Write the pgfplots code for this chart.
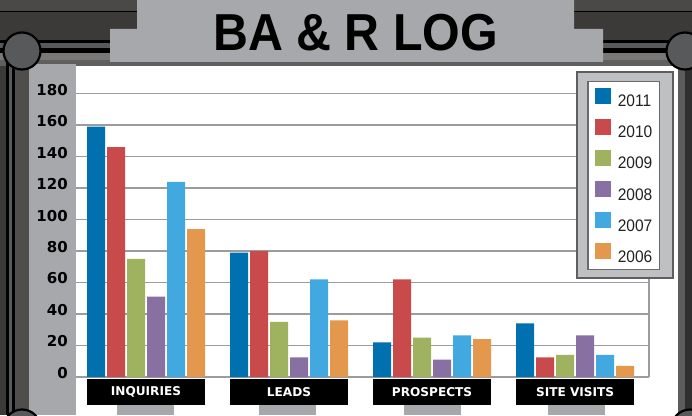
\documentclass[border=0pt]{standalone}
\usepackage{pgfplots}
\pgfplotsset{compat=1.18}
\usepackage{fontspec}
\setmainfont{Liberation Sans}
\newfontfamily\heavyfont{DejaVu Sans}
\newfontfamily\catfont{DejaVu Sans}
\newfontfamily\titlefont{Liberation Sans}[FakeStretch=0.93]
\newfontfamily\legfont{Liberation Sans}[FakeStretch=0.93]
\definecolor{c2011}{HTML}{0170AE}
\definecolor{c2010}{HTML}{C84A4A}
\definecolor{c2009}{HTML}{9EB260}
\definecolor{c2008}{HTML}{8870A2}
\definecolor{c2007}{HTML}{42A9E0}
\definecolor{c2006}{HTML}{E4984E}
\definecolor{panelgray}{HTML}{A7A8AB}
\definecolor{gridgray}{HTML}{9C9C9F}
\definecolor{legout}{HTML}{BFC0C2}
\definecolor{legoutdraw}{HTML}{5E5E60}
\definecolor{leginner}{HTML}{6A6A6C}
\definecolor{textdark}{HTML}{222222}
\definecolor{bgdark}{HTML}{3B3A39}
\definecolor{bgtop}{HTML}{4B4946}
\definecolor{railgray}{HTML}{58595B}
\definecolor{bandlight}{HTML}{7A7876}
\definecolor{bandmid}{HTML}{5F5F60}
\definecolor{sidegray}{HTML}{4F4E4C}
\definecolor{rightgray}{HTML}{5C5C5C}
\definecolor{rightdark}{HTML}{2F2F2F}
\begin{document}
\begin{tikzpicture}
\useasboundingbox (0,0) rectangle (692pt,415pt);
\begin{scope}[x=1pt,y=-1pt,shift={(0pt,415pt)}]
\clip (0,0) rectangle (692,415);
% background frame
\fill[bgdark] (0,0) rectangle (692,415);
\fill[bgtop] (0,0) rectangle (692,11);
\fill[black] (0,11) rectangle (692,12);
\fill[sidegray] (15,50) rectangle (29,415);
% horizontal rail
\fill[black] (0,40.5) rectangle (692,53);
\fill[railgray] (0,43.5) rectangle (692,48.5);
\fill[bandlight] (0,53) rectangle (692,60);
\fill[bandmid] (0,60) rectangle (692,66);
% left vertical rail
\fill[black] (5.5,50) rectangle (15,415);
\fill[railgray] (8.5,50) rectangle (12,415);
% right side
\fill[rightgray] (678,60) rectangle (685,415);
\fill[rightdark] (685,60) rectangle (692,415);
% white plot area and left panel
\fill[white] (76,66) rectangle (678,415);
\fill[panelgray] (29,64) rectangle (76,415);
% tabs under category boxes
\fill[panelgray] (117,403) rectangle (174,415);
\fill[panelgray] (259,403) rectangle (316,415);
\fill[panelgray] (404,403) rectangle (461,415);
\fill[panelgray] (548,403) rectangle (605,415);
% title box
\fill[panelgray] (137,0) -- (574,0) -- (574,29) -- (603,29) -- (603,62) -- (110,62) -- (110,29) -- (137,29) -- cycle;
\node[font=\titlefont\bfseries\fontsize{52}{52}\selectfont, anchor=base, inner sep=0pt] at (355.5,51) {BA \& R LOG};
% circles
\filldraw[fill=railgray, draw=black, line width=2.2pt] (22,51) circle (18.5);
\filldraw[fill=railgray, draw=black, line width=2.2pt] (685,51) circle (18.5);
\filldraw[fill=railgray, draw=black, line width=2.2pt] (22,428) circle (18.5);
\filldraw[fill=railgray, draw=black, line width=2.2pt] (690,428) circle (18.5);
\end{scope}
\begin{axis}[
  at={(76pt,38pt)}, anchor=south west,
  scale only axis, width=573pt, height=283.4pt,
  xmin=-0.4895, xmax=3.517, ymin=0, ymax=180,
  ybar=2pt, bar width=18pt,
  axis line style={draw=none}, tick style={draw=none},
  ytick={0,20,...,180},
  ymajorgrids, grid style={draw=gridgray, line width=1.3pt},
  /pgf/number format/assume math mode=true,
  yticklabel style={font=\heavyfont\bfseries\fontsize{15}{15}\selectfont, inner sep=0pt, xshift=-8pt, yshift=4pt},
  xtick=data, xticklabels={INQUIRIES,LEADS,PROSPECTS,SITE VISITS},
  xticklabel style={font=\catfont\bfseries\fontsize{12.1}{12.1}\selectfont, text=white, fill=black, anchor=north, inner sep=0pt, minimum width=118pt, minimum height=26pt, yshift=2.5pt},
  clip=false,
  legend cell align=left,
  legend style={at={(0.8918,1.0445)}, anchor=north west, draw=leginner, line width=1.5pt, fill=white,
    font=\legfont\fontsize{16.7}{17}\selectfont, text=textdark,
    inner xsep=7pt, inner ysep=6pt, row sep=10.5pt, column sep=7pt, nodes={inner sep=0pt}},
  legend image code/.code={\fill[#1] (0pt,-2pt) rectangle (16pt,14pt);},
]
\addplot[fill=c2011, draw=none] coordinates {(0,159) (1,79) (2,22) (3,34)};
\addplot[fill=c2010, draw=none] coordinates {(0,146) (1,80) (2,62) (3,12.5)};
\addplot[fill=c2009, draw=none] coordinates {(0,75) (1,35) (2,25) (3,14)};
\addplot[fill=c2008, draw=none] coordinates {(0,51) (1,12.5) (2,11) (3,26.5)};
\addplot[fill=c2007, draw=none] coordinates {(0,124) (1,62) (2,26.5) (3,14)};
\addplot[fill=c2006, draw=none] coordinates {(0,94) (1,36) (2,24) (3,7)};
\legend{2011,2010,2009,2008,2007,2006}
\draw[gridgray, line width=1.3pt] (rel axis cs:1,0) -- (rel axis cs:1,1);
\filldraw[fill=legout, draw=legoutdraw, line width=2pt] (rel axis cs:0.8743,1.0762) rectangle (rel axis cs:1.0419,0.3493);
\end{axis}
\end{tikzpicture}
\end{document}
